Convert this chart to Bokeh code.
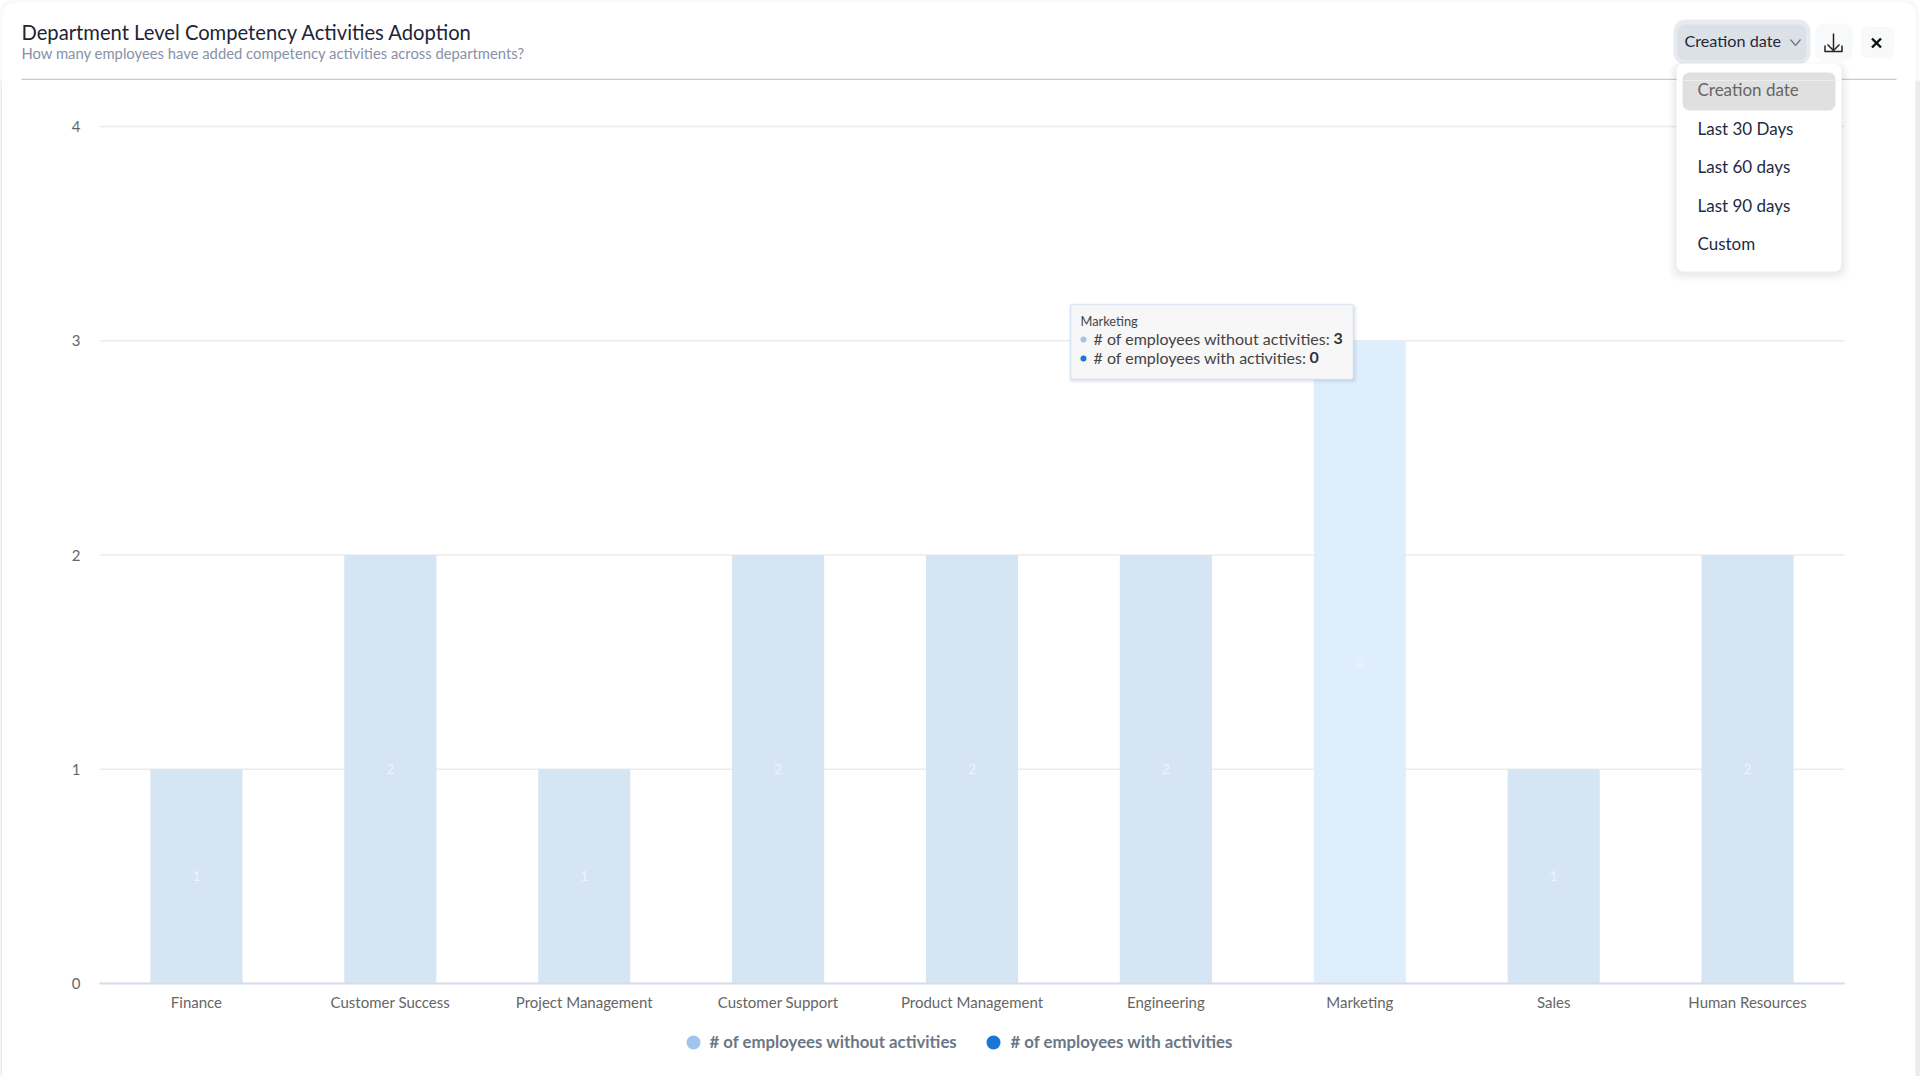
from bokeh.plotting import figure
from bokeh.embed import file_html
from bokeh.layouts import column, row
from bokeh.resources import INLINE
from bokeh.core.properties import value
from bokeh.models import Range1d, FixedTicker, Label, BoxAnnotation, Arrow, ColumnDataSource

FONT = "Lato"

categories = ["Finance", "Customer Success", "Project Management", "Customer Support",
              "Product Management", "Engineering", "Marketing", "Sales", "Human Resources"]
without_activities = [1, 2, 1, 2, 2, 2, 3, 1, 2]
with_activities = [0, 0, 0, 0, 0, 0, 0, 0, 0]
y_ticks = [0, 1, 2, 3, 4]
series_names = ["# of employees without activities", "# of employees with activities"]
menu_items = ["Creation date", "Last 30 Days", "Last 60 days", "Last 90 days", "Custom"]
hovered = "Marketing"

BAR = "#d6e5f4"
BAR_HOVER = "#dfeefd"
SOFT_BLUE = "#9fc5eb"
BLUE = "#1976d2"
PAGE = "#ececec"

# image pixels: plot area, header and footer seams, card edges
LEFT, RIGHT, TOP, BOTTOM = 99, 1844, 126, 983
HEAD, FOOT = 80, 1020
CARD_L, CARD_R, CARD_B = 2, 1915, 1076
n = len(categories)


def strip(w, h):
    f = figure(width=w, height=h, output_backend="svg", toolbar_location=None, min_border=0,
               x_axis_type=None, y_axis_type=None, x_range=Range1d(0, 1), y_range=Range1d(0, 1),
               background_fill_color=PAGE, border_fill_color=PAGE, outline_line_color=None)
    f.grid.visible = False
    return f


def blank(w, h, x0, x1, y0, y1):
    f = figure(width=w, height=h, output_backend="svg", toolbar_location=None, min_border=0,
               x_axis_type=None, y_axis_type=None, x_range=Range1d(x0, x1), y_range=Range1d(y1, y0),
               background_fill_color="white", border_fill_color="white", outline_line_color=None)
    f.grid.visible = False
    return f


# header and footer figures: their frames are in image pixels
# (the footer's frame lines up with the chart's frame, so it starts at LEFT)
head = blank(1920, HEAD, 0, 1920, 0, HEAD)
foot = blank(CARD_R - CARD_L, CARD_B - FOOT, LEFT, CARD_R, FOOT, CARD_B)

# chart figure: main ranges extend past the plot area so page chrome can overlap its frame
p = figure(width=CARD_R - CARD_L, height=FOOT - HEAD, output_backend="svg", toolbar_location=None,
           x_range=Range1d(0, n * (CARD_R - LEFT) / (RIGHT - LEFT)),
           y_range=Range1d(0, 4 * (BOTTOM - HEAD) / (BOTTOM - TOP)),
           min_border_left=LEFT - CARD_L, min_border_right=0, min_border_top=0,
           min_border_bottom=FOOT - BOTTOM,
           background_fill_color="white", border_fill_color="white", outline_line_color=None)
p.extra_x_ranges["px"] = Range1d(LEFT, CARD_R)
p.extra_y_ranges["px"] = Range1d(BOTTOM, HEAD)

centers = [i + 0.5 for i in range(n)]
p.grid.visible = False
p.yaxis.ticker = FixedTicker(ticks=y_ticks)
p.xaxis.ticker = FixedTicker(ticks=centers)
p.xaxis.major_label_overrides = dict(zip(centers, categories))
p.xaxis.bounds = (0, n)
p.yaxis.axis_line_color = None
p.yaxis.major_tick_line_color = None
p.yaxis.minor_tick_line_color = None
p.yaxis.major_label_standoff = 13
p.xaxis.axis_line_color = "#d6dde9"
p.xaxis.axis_line_width = 2
p.xaxis.major_tick_line_color = None
p.xaxis.minor_tick_line_color = None
p.xaxis.major_label_standoff = 3
for ax in (p.xaxis, p.yaxis):
    ax.major_label_text_font = FONT
    ax.major_label_text_font_size = "15px"
    ax.major_label_text_color = "#666666"

p.segment(x0=[0] * len(y_ticks), x1=[n] * len(y_ticks), y0=y_ticks, y1=y_ticks,
          line_color="#ececec", line_width=1.3)

src = ColumnDataSource(dict(
    x=centers,
    without=without_activities,
    total=[a + b for a, b in zip(without_activities, with_activities)],
    color=[BAR_HOVER if c == hovered else BAR for c in categories],
    mid=[a / 2 for a in without_activities],
    lab=[str(a) for a in without_activities],
))
BAR_W = 0.475
p.vbar(x="x", bottom=0, top="without", width=BAR_W, source=src, fill_color="color", line_color=None)
p.vbar(x="x", bottom="without", top="total", width=BAR_W, source=src, fill_color=BLUE, line_color=None)
p.text(x="x", y="mid", text="lab", source=src, text_color="#edf4fb", text_align="center",
       text_baseline="middle", text_font=value(FONT), text_font_size="14px")


def kw(f):
    return dict(x_range_name="px", y_range_name="px") if f is p else {}


def box(f, l, t, r, b, fill=None, alpha=1.0, line=None, lw=1, radius=0):
    f.add_layout(BoxAnnotation(left=l, right=r, top=t, bottom=b, fill_color=fill, fill_alpha=alpha,
                               line_color=line, line_width=lw, border_radius=radius,
                               level="overlay", editable=False, **kw(f)))


def seg(f, x0, y0, x1, y1, color, lw=1.5):
    f.add_layout(Arrow(end=None, x_start=x0, y_start=y0, x_end=x1, y_end=y1, line_color=color,
                       line_width=lw, level="overlay", **kw(f)))


def text(f, x, y, s, size, color, style="normal"):
    f.add_layout(Label(x=x, y=y - 1, text=s, text_font=FONT, text_font_size=size, text_color=color,
                       text_font_style=style, text_align="left", text_baseline="middle",
                       level="overlay", **kw(f)))


# legend
box(foot, 686, 1035, 700, 1049, SOFT_BLUE, radius=7)
text(foot, 709, 1042, series_names[0], "16.8px", "#6b7785", "bold")
box(foot, 986, 1035, 1000, 1049, BLUE, radius=7)
text(foot, 1010, 1042, series_names[1], "16.8px", "#6b7785", "bold")

# page behind the card, top corners
box(head, 0, 0, 1917, 1078, None, 0, line=PAGE, lw=4, radius=14)

# header
text(head, 21, 32, "Department Level Competency Activities Adoption", "20.2px", "#1d2539")
text(head, 21, 53, "How many employees have added competency activities across departments?", "14.8px", "#8791a8")
seg(head, 21, 79, 1896, 79, "#c9c9c9", 1.5)

# tooltip
for i, a in enumerate((0.03, 0.04, 0.05)):
    box(p, 1070 - 2 + i, 304 + i, 1354 + 3 - i, 379 + 4 - i, "#50607a", a, radius=3)
box(p, 1070, 304, 1353, 379, "#f7f7f7", line="#9dbfe3", lw=1.5, radius=2)
text(p, 1080, 321, hovered, "12.8px", "#444444")
text(p, 1093, 339, series_names[0] + ":", "16px", "#444444")
text(p, 1093, 358, series_names[1] + ":", "16px", "#444444")
text(p, 1333, 339, str(without_activities[categories.index(hovered)]), "16px", "#333333", "bold")
text(p, 1309, 358, str(with_activities[categories.index(hovered)]), "16px", "#333333", "bold")
box(p, 1080, 336, 1086, 342, SOFT_BLUE, radius=3)
box(p, 1080, 355, 1086, 361, BLUE, radius=3)

# date dropdown button
box(head, 1673, 19, 1810, 64, "#e7eaef", radius=12)
box(head, 1677, 24, 1806, 60, "#dce1e8", radius=8)
text(head, 1684, 41, menu_items[0], "16.2px", "#1f2937")
seg(head, 1790, 39, 1795, 45, "#6b7280", 1.2)
seg(head, 1795, 45, 1800, 39, "#6b7280", 1.2)

# download button
box(head, 1815, 23, 1852, 61, "#f8f9fa", radius=9)
seg(head, 1833, 33, 1833, 50, "#222222", 1.5)
seg(head, 1827, 44, 1833, 50, "#222222", 1.5)
seg(head, 1839, 44, 1833, 50, "#222222", 1.5)
seg(head, 1824.5, 45, 1824.5, 51, "#222222", 1.5)
seg(head, 1824, 51, 1842, 51, "#222222", 1.5)
seg(head, 1841.5, 45, 1841.5, 51, "#222222", 1.5)

# close button
box(head, 1861, 27, 1893, 57, "#f8f9fa", line="#eeeeee", radius=6)
seg(head, 1871.5, 38, 1880.5, 47, "#111111", 2.4)
seg(head, 1880.5, 38, 1871.5, 47, "#111111", 2.4)

# dropdown menu crosses the seam between the two figures
for f in (head, p):
    for i, a in enumerate((0.015, 0.02, 0.025, 0.03)):
        box(f, 1676 - 8 + 2 * i, 63 - 2 + i, 1841 + 8 - 2 * i, 271 + 10 - 2 * i, "#20304a", a, radius=10)
    box(f, 1676, 63, 1841, 271, "#ffffff", radius=7)
    box(f, 1682, 72, 1835, 110, "#e0e0e0", radius=7)
menu_y = [89.5, 128.5, 167, 205.5, 244]
for i, (item, y) in enumerate(zip(menu_items, menu_y)):
    text(p, 1697, y, item, "17px", "#666666" if i == 0 else "#1f2a44")

page = column(head,
              row(strip(CARD_L, CARD_B - HEAD), column(p, foot), strip(1920 - CARD_R, CARD_B - HEAD)),
              strip(1920, 1080 - CARD_B))

open("out.html", "w").write(file_html(page, INLINE))
